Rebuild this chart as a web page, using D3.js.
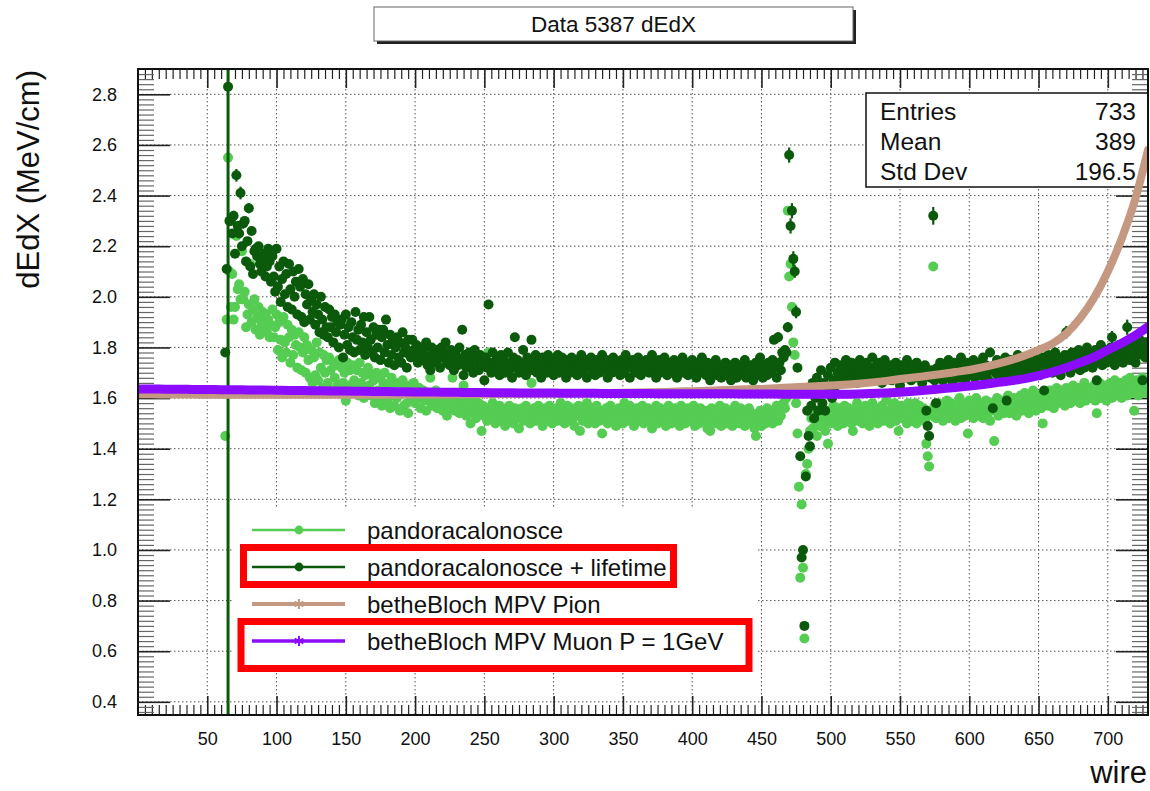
<!DOCTYPE html>
<html>
<head>
<meta charset="utf-8">
<script src="https://cdn.jsdelivr.net/npm/d3@7"></script>
<style>
body { margin: 0; background: #fff; }
svg { display: block; font-family: "Liberation Sans", Arial, Helvetica, sans-serif; }
</style>
</head>
<body>
<svg width="1150" height="791"></svg>
<script>
var width = 1150, height = 791;

// ---- data ----
// one point per wire, starting at firstWire
var firstWire = 63;

var darkValues = [
  1.78, 2.11, 2.83, 2.30,
  2.30, 2.25, 2.32, 2.17, 2.48, 2.28, 2.25, 2.41, 2.20, 2.29,
  2.30, 2.14, 2.22, 2.35, 2.12, 2.26, 2.09, 2.18, 2.19, 2.16,
  2.20, 2.13, 2.10, 2.15, 2.17, 2.08, 2.12, 2.19, 2.14, 2.06,
  2.16, 2.08, 2.02, 2.19, 2.04, 2.12, 1.98, 2.07, 2.14, 2.01,
  2.09, 1.96, 2.13, 2.03, 1.95, 2.10, 2.00, 2.06, 1.93, 2.11,
  2.04, 1.92, 2.07, 1.90, 2.01, 1.97, 2.05, 1.91, 1.99, 1.94,
  2.01, 1.89, 1.97, 1.93, 1.86, 2.00, 1.91, 1.85, 1.96, 1.88,
  1.84, 1.95, 1.88, 1.92, 1.82, 1.93, 1.86, 1.90, 1.80, 1.89,
  1.91, 1.76, 1.85, 1.93, 1.81, 1.88, 1.79, 1.90, 1.84, 1.78,
  1.94, 1.83, 1.87, 1.79, 1.89, 1.82, 1.92, 1.77, 1.86, 1.80,
  1.92, 1.83, 1.78, 1.88, 1.76, 1.85, 1.80, 1.87, 1.75, 1.84,
  1.87, 1.78, 1.91, 1.81, 1.74, 1.85, 1.77, 1.83, 1.73, 1.80,
  1.84, 1.76, 1.82, 1.74, 1.86, 1.78, 1.80, 1.72, 1.83, 1.77,
  1.76, 1.83, 1.79, 1.77, 1.81, 1.74, 1.78, 1.80, 1.75, 1.79,
  1.77, 1.82, 1.73, 1.76, 1.71, 1.80, 1.78, 1.74, 1.79, 1.75,
  1.77, 1.72, 1.80, 1.76, 1.78, 1.82, 1.74, 1.77, 1.73, 1.79,
  1.75, 1.71, 1.78, 1.76, 1.73, 1.80, 1.74, 1.87, 1.69, 1.77,
  1.72, 1.75, 1.78, 1.73, 1.76, 1.70, 1.79, 1.75, 1.74, 1.71,
  1.77, 1.73, 1.75, 1.67, 1.76, 1.72, 1.97, 1.74, 1.70, 1.78,
  1.73, 1.71, 1.76, 1.74, 1.69, 1.77, 1.72, 1.75, 1.70, 1.73,
  1.78, 1.71, 1.74, 1.68, 1.76, 1.84, 1.72, 1.75, 1.70, 1.73,
  1.71, 1.79, 1.74, 1.69, 1.76, 1.72, 1.75, 1.83, 1.71, 1.74,
  1.77, 1.70, 1.73, 1.75, 1.68, 1.76, 1.72, 1.74, 1.70, 1.77,
  1.73, 1.71, 1.75, 1.69, 1.74, 1.72, 1.77, 1.70, 1.73, 1.76,
  1.71, 1.74, 1.68, 1.75, 1.72, 1.70, 1.76, 1.73, 1.71, 1.75,
  1.69, 1.74, 1.72, 1.77, 1.70, 1.73, 1.75, 1.68, 1.72, 1.74,
  1.76, 1.71, 1.73, 1.69, 1.75, 1.72, 1.70, 1.74, 1.77, 1.71,
  1.73, 1.75, 1.68, 1.72, 1.74, 1.70, 1.76, 1.73, 1.71, 1.74,
  1.72, 1.69, 1.75, 1.73, 1.70, 1.77, 1.72, 1.74, 1.68, 1.73,
  1.75, 1.71, 1.74, 1.70, 1.76, 1.72, 1.69, 1.74, 1.73, 1.71,
  1.75, 1.72, 1.70, 1.74, 1.77, 1.71, 1.73, 1.68, 1.72, 1.75,
  1.70, 1.73, 1.71, 1.76, 1.72, 1.69, 1.74, 1.71, 1.73, 1.70,
  1.75, 1.72, 1.68, 1.74, 1.71, 1.73, 1.76, 1.70, 1.72, 1.74,
  1.69, 1.73, 1.71, 1.75, 1.70, 1.72, 1.68, 1.74, 1.71, 1.73,
  1.76, 1.70, 1.72, 1.69, 1.74, 1.71, 1.67, 1.73, 1.70, 1.72,
  1.75, 1.69, 1.71, 1.73, 1.68, 1.72, 1.70, 1.74, 1.69, 1.71,
  1.73, 1.67, 1.72, 1.70, 1.74, 1.68, 1.71, 1.69, 1.73, 1.70,
  1.72, 1.75, 1.68, 1.71, 1.69, 1.73, 1.70, 1.67, 1.72, 1.74,
  1.69, 1.71, 1.76, 1.70, 1.68, 1.73, 1.71, 1.69, 1.74, 1.72,
  1.70, 1.75, 1.83, 1.72, 1.68, 1.84, 1.74, 1.71, 1.78, 1.76,
  1.79, 1.78, 1.88, 2.56, 2.28, 2.34, 2.15, 2.10, 1.94, 1.72,
  1.63, 1.37, 0.97, 1.00, 0.70, 1.29, 1.55, 1.45, 1.41, 1.57,
  1.66, 1.52, 1.60, 1.68, 1.55, 1.63, 1.71, 1.58, 1.66, 1.55,
  1.62, 1.69, 1.64, 1.72, 1.60, 1.67, 1.74, 1.65, 1.70, 1.68,
  1.73, 1.66, 1.71, 1.69, 1.75, 1.67, 1.72, 1.70, 1.74, 1.68,
  1.71, 1.73, 1.66, 1.70, 1.75, 1.69, 1.72, 1.67, 1.71, 1.74,
  1.68, 1.72, 1.70, 1.76, 1.67, 1.71, 1.73, 1.69, 1.74, 1.70,
  1.66, 1.72, 1.75, 1.68, 1.71, 1.69, 1.73, 1.67, 1.70, 1.72,
  1.74, 1.68, 1.71, 1.65, 1.73, 1.70, 1.68, 1.72, 1.75, 1.69,
  1.71, 1.67, 1.73, 1.70, 1.68, 1.74, 1.71, 1.69, 1.72, 1.66,
  1.70, 1.73, 1.55, 1.49, 1.45, 1.68, 1.71, 2.32, 1.67, 1.58,
  1.72, 1.69, 1.74, 1.70, 1.67, 1.73, 1.71, 1.68, 1.75, 1.70,
  1.72, 1.66, 1.74, 1.69, 1.71, 1.73, 1.68, 1.76, 1.70, 1.72,
  1.67, 1.74, 1.71, 1.69, 1.73, 1.70, 1.75, 1.68, 1.72, 1.71,
  1.74, 1.69, 1.72, 1.76, 1.68, 1.73, 1.70, 1.67, 1.78, 1.71,
  1.56, 1.73, 1.70, 1.75, 1.68, 1.72, 1.74, 1.69, 1.71, 1.76,
  1.59, 1.73, 1.70, 1.75, 1.72, 1.68, 1.74, 1.71, 1.77, 1.70,
  1.73, 1.75, 1.69, 1.72, 1.76, 1.70, 1.74, 1.71, 1.73, 1.77,
  1.70, 1.74, 1.72, 1.75, 1.69, 1.73, 1.76, 1.63, 1.71, 1.74,
  1.77, 1.72, 1.75, 1.70, 1.74, 1.78, 1.71, 1.73, 1.76, 1.69,
  1.74, 1.72, 1.77, 1.86, 1.73, 1.75, 1.70, 1.78, 1.74, 1.72,
  1.76, 1.73, 1.79, 1.71, 1.75, 1.77, 1.72, 1.74, 1.80, 1.73,
  1.76, 1.78, 1.72, 1.75, 1.79, 1.67, 1.74, 1.77, 1.81, 1.73,
  1.76, 1.79, 1.74, 1.78, 1.75, 1.80, 1.84, 1.77, 1.73, 1.79,
  1.76, 1.81, 1.75, 1.78, 1.74, 1.80, 1.77, 1.88, 1.79, 1.75,
  1.82, 1.76, 1.79, 1.74, 1.81, 1.77, 1.83, 1.78, 1.67, 1.80,
  1.76, 1.82, 1.79
];

var lightValues = [
  1.45, 1.91, 2.55, 2.10,
  1.96, 2.09, 1.91, 1.96, 2.24, 2.03, 2.05, 1.99, 2.18, 1.99,
  2.02, 1.88, 1.93, 1.97, 2.13, 1.90, 1.95, 1.99, 1.87, 1.92,
  1.96, 1.85, 1.90, 1.94, 1.88, 1.93, 1.86, 1.91, 1.84, 1.89,
  1.95, 1.84, 1.88, 1.93, 1.79, 1.90, 1.83, 1.76, 1.92, 1.82,
  1.78, 1.89, 1.84, 1.74, 1.87, 1.77, 1.85, 1.81, 1.72, 1.86,
  1.80, 1.71, 1.78, 1.84, 1.70, 1.81, 1.75, 1.68, 1.79, 1.66,
  1.76, 1.69, 1.82, 1.67, 1.78, 1.72, 1.64, 1.77, 1.70, 1.75,
  1.66, 1.76, 1.71, 1.63, 1.74, 1.68, 1.73, 1.65, 1.75, 1.64,
  1.72, 1.66, 1.70, 1.59, 1.74, 1.65, 1.71, 1.62, 1.73, 1.67,
  1.64, 1.71, 1.61, 1.74, 1.66, 1.70, 1.60, 1.69, 1.63, 1.72,
  1.65, 1.61, 1.69, 1.67, 1.58, 1.70, 1.63, 1.60, 1.68, 1.57,
  1.66, 1.70, 1.62, 1.59, 1.65, 1.56, 1.68, 1.61, 1.57, 1.66,
  1.60, 1.65, 1.55, 1.63, 1.67, 1.57, 1.64, 1.58, 1.54, 1.65,
  1.61, 1.63, 1.66, 1.58, 1.62, 1.60, 1.64, 1.56, 1.61, 1.63,
  1.59, 1.55, 1.62, 1.60, 1.68, 1.57, 1.61, 1.59, 1.63, 1.56,
  1.60, 1.58, 1.62, 1.55, 1.59, 1.61, 1.53, 1.58, 1.60, 1.56,
  1.68, 1.59, 1.55, 1.61, 1.57, 1.54, 1.60, 1.58, 1.65, 1.56,
  1.53, 1.59, 1.55, 1.50, 1.57, 1.54, 1.60, 1.52, 1.56, 1.58,
  1.55, 1.47, 1.57, 1.53, 1.56, 1.51, 1.78, 1.55, 1.52, 1.58,
  1.54, 1.50, 1.56, 1.53, 1.57, 1.51, 1.55, 1.52, 1.49, 1.56,
  1.53, 1.57, 1.51, 1.54, 1.50, 1.56, 1.52, 1.55, 1.48, 1.53,
  1.56, 1.51, 1.54, 1.57, 1.52, 1.55, 1.50, 1.66, 1.53, 1.56,
  1.51, 1.54, 1.57, 1.52, 1.55, 1.49, 1.53, 1.56, 1.51, 1.54,
  1.57, 1.52, 1.50, 1.55, 1.53, 1.56, 1.51, 1.54, 1.58, 1.52,
  1.55, 1.50, 1.53, 1.57, 1.51, 1.54, 1.56, 1.52, 1.49, 1.55,
  1.53, 1.57, 1.47, 1.54, 1.51, 1.55, 1.52, 1.58, 1.50, 1.54,
  1.56, 1.52, 1.55, 1.50, 1.57, 1.53, 1.51, 1.54, 1.46, 1.55,
  1.52, 1.56, 1.50, 1.54, 1.57, 1.51, 1.53, 1.55, 1.49, 1.54,
  1.56, 1.52, 1.55, 1.50, 1.58, 1.53, 1.51, 1.54, 1.57, 1.52,
  1.55, 1.49, 1.53, 1.56, 1.51, 1.54, 1.52, 1.57, 1.50, 1.55,
  1.53, 1.56, 1.51, 1.54, 1.48, 1.55, 1.52, 1.57, 1.50, 1.54,
  1.56, 1.51, 1.53, 1.55, 1.49, 1.54, 1.57, 1.52, 1.50, 1.55,
  1.53, 1.56, 1.51, 1.54, 1.49, 1.57, 1.52, 1.55, 1.50, 1.53,
  1.56, 1.51, 1.54, 1.52, 1.57, 1.49, 1.55, 1.53, 1.50, 1.56,
  1.52, 1.54, 1.51, 1.55, 1.48, 1.53, 1.47, 1.56, 1.51, 1.54,
  1.50, 1.55, 1.52, 1.57, 1.49, 1.53, 1.51, 1.56, 1.50, 1.54,
  1.52, 1.55, 1.49, 1.53, 1.57, 1.51, 1.54, 1.50, 1.56, 1.52,
  1.55, 1.49, 1.53, 1.51, 1.56, 1.50, 1.54, 1.52, 1.48, 1.45,
  1.53, 1.51, 1.55, 1.49, 1.54, 1.52, 1.50, 1.56, 1.51, 1.53,
  1.55, 1.50, 1.54, 1.52, 1.57, 1.51, 1.55, 1.53, 1.62, 1.58,
  1.56, 1.60, 2.34, 2.08, 2.13, 1.96, 1.82, 1.77, 1.58, 1.46,
  1.25, 0.89, 1.18, 0.93, 0.65, 1.30, 1.34, 1.40, 1.47, 1.52,
  1.48, 1.55, 1.51, 1.45, 1.53, 1.49, 1.56, 1.50, 1.54, 1.47,
  1.52, 1.42, 1.55, 1.50, 1.53, 1.57, 1.51, 1.54, 1.49, 1.56,
  1.52, 1.55, 1.50, 1.57, 1.53, 1.51, 1.56, 1.54, 1.50, 1.47,
  1.55, 1.52, 1.58, 1.51, 1.54, 1.56, 1.50, 1.53, 1.57, 1.52,
  1.55, 1.49, 1.54, 1.58, 1.51, 1.56, 1.53, 1.50, 1.55, 1.52,
  1.57, 1.51, 1.54, 1.59, 1.52, 1.55, 1.50, 1.56, 1.53, 1.58,
  1.51, 1.55, 1.47, 1.54, 1.57, 1.52, 1.56, 1.53, 1.50, 1.58,
  1.54, 1.51, 1.56, 1.53, 1.58, 1.50, 1.55, 1.57, 1.52, 1.54,
  1.56, 1.51, 1.42, 1.37, 1.33, 1.55, 1.53, 2.12, 1.57, 1.52,
  1.55, 1.58, 1.53, 1.56, 1.51, 1.57, 1.54, 1.59, 1.52, 1.55,
  1.58, 1.53, 1.56, 1.51, 1.57, 1.54, 1.60, 1.52, 1.55, 1.58,
  1.53, 1.56, 1.46, 1.59, 1.54, 1.57, 1.52, 1.55, 1.60, 1.53,
  1.57, 1.54, 1.58, 1.52, 1.56, 1.59, 1.54, 1.57, 1.51, 1.55,
  1.58, 1.43, 1.56, 1.60, 1.53, 1.57, 1.55, 1.59, 1.54, 1.58,
  1.56, 1.61, 1.54, 1.58, 1.55, 1.60, 1.57, 1.53, 1.59, 1.56,
  1.61, 1.55, 1.58, 1.62, 1.56, 1.59, 1.54, 1.60, 1.57, 1.63,
  1.58, 1.55, 1.61, 1.57, 1.60, 1.56, 1.50, 1.62, 1.58, 1.61,
  1.57, 1.63, 1.59, 1.62, 1.56, 1.60, 1.64, 1.58, 1.61, 1.63,
  1.59, 1.62, 1.57, 1.64, 1.60, 1.63, 1.58, 1.61, 1.65, 1.59,
  1.62, 1.60, 1.64, 1.58, 1.63, 1.61, 1.66, 1.59, 1.62, 1.64,
  1.60, 1.63, 1.61, 1.65, 1.59, 1.54, 1.62, 1.66, 1.60, 1.63,
  1.61, 1.65, 1.59, 1.64, 1.62, 1.66, 1.60, 1.63, 1.67, 1.61,
  1.64, 1.62, 1.66, 1.60, 1.65, 1.63, 1.67, 1.61, 1.64, 1.68,
  1.62, 1.65, 1.55, 1.63, 1.67, 1.61, 1.66, 1.64, 1.68, 1.62,
  1.65, 1.63, 1.67
];

// error bars visible on the dark series
var errWires = [65, 69, 71, 72, 74, 76, 80, 462, 469, 470, 471, 472, 473, 474, 475, 574, 670, 703, 714];
var errSizes = [3.0, 0.02, 0.025, 0.02, 0.025, 0.02, 0.02, 0.02, 0.02, 0.03, 0.03, 0.03, 0.03, 0.025, 0.025, 0.035, 0.025, 0.025, 0.03];

// Bethe-Bloch curves, sampled every 10 wires
var curveWires = [0, 10, 20, 30, 40, 50, 60, 70, 80, 90, 100, 110, 120, 130, 140, 150, 160, 170, 180, 190,
  200, 210, 220, 230, 240, 250, 260, 270, 280, 290, 300, 310, 320, 330, 340, 350, 360, 370, 380, 390,
  400, 410, 420, 430, 440, 450, 460, 470, 480, 490, 500, 510, 520, 530, 540, 550, 560, 570, 580, 590,
  600, 610, 620, 630, 640, 650, 660, 670, 680, 690, 700, 710, 720, 729];
var pionValues = [1.615, 1.615, 1.614, 1.614, 1.614, 1.613, 1.613, 1.613, 1.613, 1.613, 1.613, 1.613, 1.613, 1.613, 1.613, 1.613, 1.613, 1.613, 1.613, 1.614,
  1.614, 1.614, 1.614, 1.615, 1.615, 1.615, 1.616, 1.616, 1.617, 1.617, 1.618, 1.618, 1.619, 1.620, 1.620, 1.621, 1.622, 1.623, 1.624, 1.626,
  1.627, 1.629, 1.631, 1.633, 1.635, 1.636, 1.639, 1.642, 1.645, 1.647, 1.650, 1.653, 1.657, 1.662, 1.668, 1.675, 1.681, 1.688, 1.695, 1.703,
  1.711, 1.722, 1.735, 1.750, 1.768, 1.790, 1.815, 1.855, 1.915, 1.995, 2.100, 2.230, 2.390, 2.580];
var muonValues = [1.636, 1.636, 1.635, 1.635, 1.634, 1.634, 1.633, 1.633, 1.632, 1.632, 1.631, 1.630, 1.630, 1.629, 1.628, 1.628, 1.627, 1.626, 1.626, 1.625,
  1.624, 1.624, 1.623, 1.623, 1.622, 1.622, 1.621, 1.621, 1.620, 1.620, 1.620, 1.619, 1.619, 1.619, 1.618, 1.618, 1.618, 1.618, 1.617, 1.617,
  1.617, 1.617, 1.617, 1.617, 1.616, 1.616, 1.616, 1.615, 1.615, 1.615, 1.615, 1.615, 1.616, 1.618, 1.620, 1.623, 1.627, 1.632, 1.637, 1.642,
  1.648, 1.654, 1.661, 1.668, 1.677, 1.689, 1.703, 1.720, 1.740, 1.762, 1.790, 1.817, 1.848, 1.882];

var xTicks = [50, 100, 150, 200, 250, 300, 350, 400, 450, 500, 550, 600, 650, 700];
var yTicks = [0.4, 0.6, 0.8, 1.0, 1.2, 1.4, 1.6, 1.8, 2.0, 2.2, 2.4, 2.6, 2.8];
var statNames = ["Entries", "Mean", "Std Dev"];
var statValues = ["733", "389", "196.5"];
var legendLabels = ["pandoracalonosce", "pandoracalonosce + lifetime", "betheBloch MPV Pion", "betheBloch MPV Muon P = 1GeV"];

var lightGreen = "#55cc52", darkGreen = "#0b5a0b", pionColor = "#c59882", muonColor = "#8c0cff";

var svg = d3.select("svg");

var x = d3.scaleLinear().domain([0, 729]).range([138, 1148]);
var y = d3.scaleLinear().domain([0.348, 2.9]).range([715, 69]);

// title box with shadow
svg.append("rect").attr("x", 377).attr("y", 10).attr("width", 479).attr("height", 34).attr("fill", "#222");
svg.append("rect").attr("x", 374).attr("y", 7).attr("width", 479).attr("height", 34)
  .attr("fill", "#fff").attr("stroke", "#666").attr("stroke-width", 1);
svg.append("text").attr("x", 613.5).attr("y", 32).attr("text-anchor", "middle")
  .attr("font-size", 22.5).attr("fill", "#111").text("Data 5387 dEdX");

// grid
var grid = svg.append("g").attr("stroke", "#555").attr("stroke-width", 1).attr("stroke-dasharray", "1.5,2.5");
grid.selectAll(".gx").data(xTicks).enter().append("line")
  .attr("x1", d => x(d)).attr("x2", d => x(d)).attr("y1", 69).attr("y2", 715);
grid.selectAll(".gy").data(yTicks).enter().append("line")
  .attr("x1", 138).attr("x2", 1148).attr("y1", d => y(d)).attr("y2", d => y(d));

// axes: major + minor ticks on all four sides
var xMinor = d3.range(1, 146).map(i => i * 5).filter(d => d % 50 !== 0);
var yMinor = d3.range(18, 145).map(i => +(i * 0.02).toFixed(2)).filter(d => Math.round(d * 100) % 20 !== 0);

function styleAxis(g, w) {
  g.select(".domain").remove();
  g.selectAll(".tick line").attr("stroke", "#222").attr("stroke-width", w);
}

svg.append("g").attr("transform", "translate(0,715)")
  .call(d3.axisBottom(x).tickValues(xMinor).tickSize(-10).tickFormat(""))
  .call(g => styleAxis(g, 1.2));
svg.append("g").attr("transform", "translate(0,69)")
  .call(d3.axisTop(x).tickValues(xMinor).tickSize(-10).tickFormat(""))
  .call(g => styleAxis(g, 1.2));
svg.append("g").attr("transform", "translate(0,715)")
  .call(d3.axisBottom(x).tickValues(xTicks).tickSizeInner(-19).tickSizeOuter(0).tickPadding(17))
  .call(g => styleAxis(g, 1.6))
  .call(g => g.selectAll("text").attr("font-size", 18).attr("fill", "#111").attr("font-family", "Liberation Sans, Arial, sans-serif"));
svg.append("g").attr("transform", "translate(0,69)")
  .call(d3.axisTop(x).tickValues(xTicks).tickSizeInner(-19).tickSizeOuter(0).tickFormat(""))
  .call(g => styleAxis(g, 1.6));

svg.append("g").attr("transform", "translate(138,0)")
  .call(d3.axisLeft(y).tickValues(yMinor).tickSize(-16).tickFormat(""))
  .call(g => styleAxis(g, 1.2))
  .call(g => g.selectAll(".tick line").attr("stroke", "#666"));
svg.append("g").attr("transform", "translate(1148,0)")
  .call(d3.axisRight(y).tickValues(yMinor).tickSize(-16).tickFormat(""))
  .call(g => styleAxis(g, 1.2))
  .call(g => g.selectAll(".tick line").attr("stroke", "#666"));
svg.append("g").attr("transform", "translate(138,0)")
  .call(d3.axisLeft(y).tickValues(yTicks).tickSizeInner(-32).tickSizeOuter(0).tickPadding(21).tickFormat(d3.format(".1f")))
  .call(g => styleAxis(g, 1.6))
  .call(g => g.selectAll("text").attr("font-size", 18).attr("fill", "#111").attr("font-family", "Liberation Sans, Arial, sans-serif"));
svg.append("g").attr("transform", "translate(1148,0)")
  .call(d3.axisRight(y).tickValues(yTicks).tickSizeInner(-32).tickSizeOuter(0).tickFormat(""))
  .call(g => styleAxis(g, 1.6));

// axis titles
svg.append("text").attr("x", 1147).attr("y", 783).attr("text-anchor", "end")
  .attr("font-size", 31).attr("fill", "#111").text("wire");
svg.append("text").attr("transform", "translate(39,70) rotate(-90)").attr("text-anchor", "end")
  .attr("font-size", 31).attr("fill", "#111").text("dEdX (MeV/cm)");

// stats box (the pion curve passes over it)
svg.append("rect").attr("x", 866).attr("y", 93).attr("width", 282).attr("height", 94)
  .attr("fill", "#fff").attr("stroke", "#111").attr("stroke-width", 1.5);
var statY = [120, 149.5, 180];
statNames.forEach(function(n, i) {
  svg.append("text").attr("x", 880).attr("y", statY[i]).attr("font-size", 24.5).attr("fill", "#111").text(n);
  svg.append("text").attr("x", 1136).attr("y", statY[i]).attr("text-anchor", "end")
    .attr("font-size", 24.5).attr("fill", "#111").text(statValues[i]);
});

// plot area
svg.append("clipPath").attr("id", "plotclip").append("rect")
  .attr("x", 138).attr("y", 69).attr("width", 1010).attr("height", 646);
var plot = svg.append("g").attr("clip-path", "url(#plotclip)");

var lightPts = lightValues.map((v, i) => ({wire: firstWire + i, v: v}));
var darkPts = darkValues.map((v, i) => ({wire: firstWire + i, v: v}));
var errPts = errWires.map((w, i) => ({wire: w, v: darkValues[w - firstWire], e: errSizes[i]}));

var curveLine = d3.line().x(d => x(d.wire)).y(d => y(d.v)).curve(d3.curveMonotoneX);
var pionPts = curveWires.map((w, i) => ({wire: w, v: pionValues[i]}));
var muonPts = curveWires.map((w, i) => ({wire: w, v: muonValues[i]}));

plot.append("g").selectAll("circle").data(lightPts).enter().append("circle")
  .attr("cx", d => x(d.wire)).attr("cy", d => y(d.v)).attr("r", 5).attr("fill", lightGreen);

plot.append("g").selectAll("line").data(errPts).enter().append("line")
  .attr("x1", d => x(d.wire)).attr("x2", d => x(d.wire))
  .attr("y1", d => y(d.v - d.e)).attr("y2", d => y(d.v + d.e))
  .attr("stroke", darkGreen).attr("stroke-width", d => d.e > 1 ? 3 : 2.2);

plot.append("g").selectAll("circle").data(darkPts).enter().append("circle")
  .attr("cx", d => x(d.wire)).attr("cy", d => y(d.v)).attr("r", 5).attr("fill", darkGreen);

plot.append("path").datum(pionPts).attr("d", curveLine)
  .attr("fill", "none").attr("stroke", pionColor).attr("stroke-width", 8).attr("stroke-linecap", "round");

plot.append("path").datum(muonPts).attr("d", curveLine)
  .attr("fill", "none").attr("stroke", muonColor).attr("stroke-width", 9).attr("stroke-linecap", "round");

// frame
svg.append("rect").attr("x", 138).attr("y", 69).attr("width", 1010).attr("height", 646)
  .attr("fill", "none").attr("stroke", "#111").attr("stroke-width", 2);

// legend
svg.append("rect").attr("x", 232).attr("y", 508).attr("width", 526).attr("height", 160).attr("fill", "#fff");
var legY = [530, 567, 604, 641];
var legColors = [lightGreen, darkGreen, pionColor, muonColor];
var legWidths = [2.5, 2.5, 4, 3.5];
legendLabels.forEach(function(lab, i) {
  var g = svg.append("g");
  g.append("line").attr("x1", 252).attr("x2", 345).attr("y1", legY[i]).attr("y2", legY[i])
    .attr("stroke", legColors[i]).attr("stroke-width", legWidths[i]);
  if (i < 2) {
    g.append("circle").attr("cx", 299).attr("cy", legY[i]).attr("r", 4.4).attr("fill", legColors[i]);
  } else {
    g.append("path").attr("d", d3.symbol(d3.symbolAsterisk, 70)())
      .attr("transform", "translate(299," + legY[i] + ")")
      .attr("fill", "none").attr("stroke", legColors[i]).attr("stroke-width", 2);
  }
  g.append("text").attr("x", 367).attr("y", legY[i] + 8.5).attr("font-size", 24)
    .attr("fill", "#111").text(lab);
});

// red highlight boxes
svg.append("rect").attr("x", 243.5).attr("y", 547.5).attr("width", 430).attr("height", 37)
  .attr("fill", "none").attr("stroke", "#ff0000").attr("stroke-width", 7);
svg.append("rect").attr("x", 241).attr("y", 621.5).attr("width", 508).attr("height", 47)
  .attr("fill", "none").attr("stroke", "#ff0000").attr("stroke-width", 7);
</script>
</body>
</html>
